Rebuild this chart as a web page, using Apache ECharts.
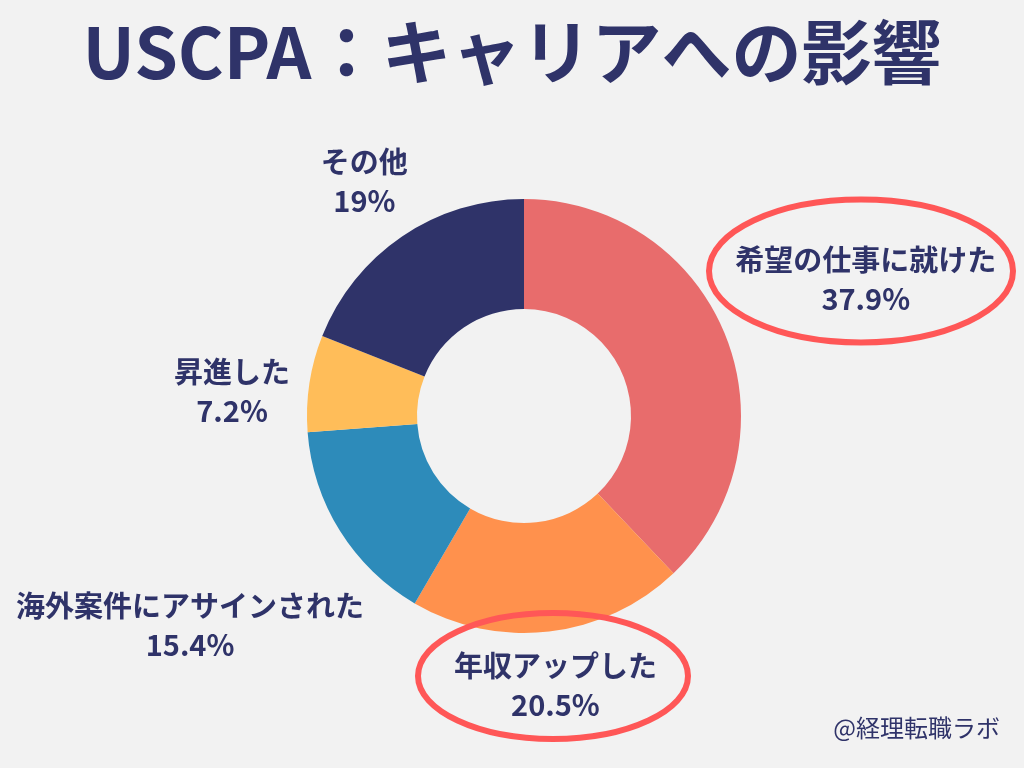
<!DOCTYPE html>
<html>
<head>
<meta charset="utf-8">
<script src="https://cdn.jsdelivr.net/npm/echarts@6/dist/echarts.min.js"></script>
<style>
html,body{margin:0;padding:0;background:#F2F2F2;}
#c{width:1024px;height:768px;}
</style>
</head>
<body>
<div id="c"></div>
<script>
// ---- data ----
const categories = ['希望の仕事に就けた', '年収アップした', '海外案件にアサインされた', '昇進した', 'その他'];
const shares = [37.9, 20.5, 15.4, 7.2, 19];
const titleText = 'USCPA：キャリアへの影響';
const creditText = '@経理転職ラボ';

// ---- style / layout ----
const sliceColors = ['#E86C6C', '#FF914D', '#2D8BBA', '#FFBD59', '#2F3369'];
const navy = '#2F3369';
const ringRed = '#FF5757';
const CX = 524, CY = 416;
const labelDist = [368, 271, 394, 293, 284];
const labelNudgeDeg = [0, 0, 0, 3.8, 0];

const total = shares.reduce((a, b) => a + b, 0);
const midAngles = [];
let acc = 0;
shares.forEach(v => { midAngles.push(90 - (acc + v / 2) / total * 360); acc += v; });

const chart = echarts.init(document.getElementById('c'));
chart.setOption({
  backgroundColor: '#F2F2F2',
  animation: false,
  title: {
    text: titleText,
    left: 'center',
    top: 12,
    textStyle: {
      fontFamily: 'Noto Sans CJK JP',
      fontSize: 70,
      fontWeight: 'bold',
      color: navy
    }
  },
  series: [{
    type: 'pie',
    center: [CX, CY],
    radius: [107, 217],
    startAngle: 90,
    clockwise: true,
    silent: true,
    avoidLabelOverlap: false,
    data: categories.map((n, i) => ({ name: n, value: shares[i], itemStyle: { color: sliceColors[i] } })),
    label: {
      show: true,
      position: 'outside',
      overflow: 'none',
      formatter: '{b}\n{c}%',
      fontFamily: 'Noto Sans CJK JP',
      fontSize: 29,
      fontWeight: 'bold',
      lineHeight: 39,
      color: navy,
      align: 'center'
    },
    labelLine: { show: false },
    labelLayout: function (p) {
      const i = p.dataIndex;
      const a = (midAngles[i] + labelNudgeDeg[i]) * Math.PI / 180;
      return {
        x: CX + labelDist[i] * Math.cos(a),
        y: CY - labelDist[i] * Math.sin(a),
        align: 'center',
        verticalAlign: 'middle'
      };
    }
  }],
  graphic: [
    { type: 'ellipse', z: 100, shape: { cx: 861, cy: 271, rx: 152, ry: 71.5 },
      style: { fill: 'none', stroke: ringRed, lineWidth: 6 } },
    { type: 'ellipse', z: 100, shape: { cx: 553, cy: 676, rx: 135, ry: 63 },
      style: { fill: 'none', stroke: ringRed, lineWidth: 6 } },
    { type: 'text', z: 100, right: 24, top: 716,
      style: { text: creditText, font: '24px "Noto Sans CJK JP"', fill: navy } }
  ]
});
</script>
</body>
</html>
